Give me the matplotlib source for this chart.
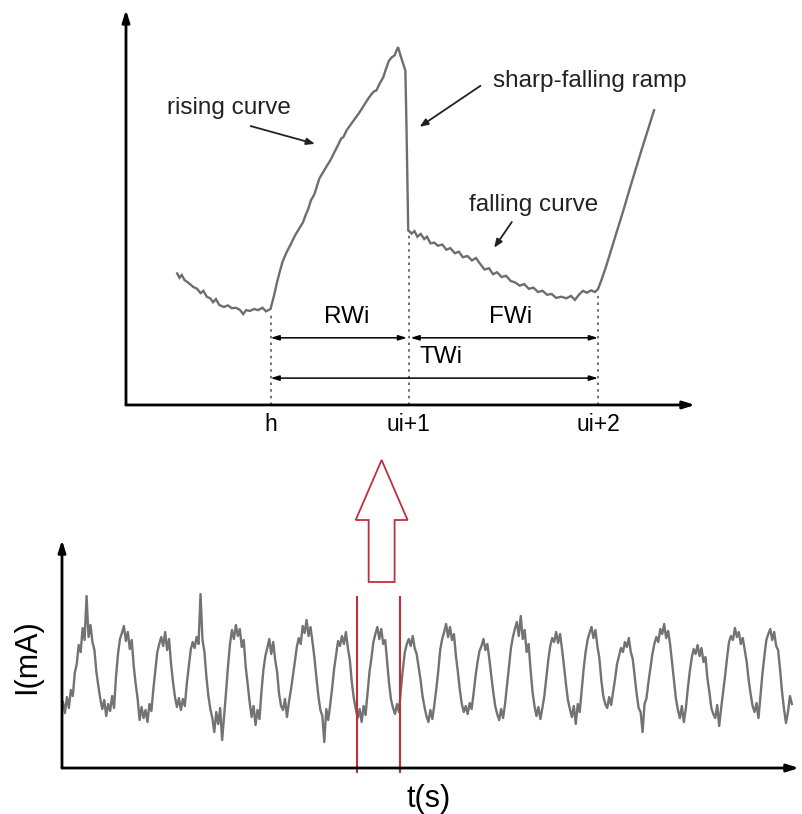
import numpy as np
import matplotlib
matplotlib.use("Agg")
import matplotlib.pyplot as plt
from matplotlib.patches import Polygon

plt.rcParams['font.family'] = ['Liberation Sans', 'DejaVu Sans']

# ---- top panel: one current cycle (arbitrary units 0..100)
cyc_x = [9.0, 9.4, 9.8, 10.3, 11.0, 11.8, 12.5, 13.1, 13.6, 14.2, 14.8, 15.3, 15.8, 16.4,
         17.2, 17.9, 18.6, 19.3, 20.0, 20.6, 21.1, 21.8, 22.5, 23.2, 24.0, 24.6, 25.4,
         26.0, 26.5, 27.0, 27.5, 28.2, 29.0, 29.7, 30.5, 31.1, 31.6, 32.0, 32.5, 33.1,
         33.6, 34.0, 34.6, 35.2, 35.9, 36.5, 37.2, 37.8, 38.2, 38.8, 39.6, 40.3, 41.0,
         41.8, 42.5, 43.1, 43.6, 44.0, 44.6, 45.2, 45.7, 46.2, 46.7, 47.2, 47.8, 48.3,
         48.8, 49.1, 49.3, 49.6,
         50.2, 50.7, 51.2, 51.8, 52.4, 52.9, 53.5, 54.2, 54.8, 55.6, 56.3, 57.0, 57.8,
         58.5, 59.2, 60.0, 60.8, 61.5, 62.2, 63.0, 63.8, 64.5, 65.2, 66.0, 66.8, 67.6,
         68.4, 69.2, 70.0, 70.8, 71.6, 72.4, 73.2, 74.0, 74.8, 75.6, 76.5, 77.4, 78.2,
         78.9, 79.6, 80.3, 81.0, 81.7, 82.4, 82.95,
         83.6, 84.4, 85.3, 86.3, 87.4, 88.5, 89.6, 90.7, 91.8, 92.8]
cyc_y = [33.3, 32.2, 32.9, 31.6, 30.9, 29.9, 29.4, 28.3, 28.9, 27.4, 27.0, 26.0, 26.8, 25.3,
         24.8, 25.2, 24.5, 24.6, 24.1, 23.0, 24.0, 23.8, 24.3, 24.0, 24.6, 23.7, 24.3,
         27.6, 30.8, 33.6, 36.2, 38.6, 40.8, 42.9, 44.8, 46.2, 48.2, 49.5, 51.8, 53.3,
         55.6, 57.4, 58.8, 60.3, 61.9, 63.6, 65.6, 67.4, 67.8, 69.6, 71.2, 72.6, 74.0,
         75.8, 77.4, 78.6, 79.4, 79.6, 81.4, 82.9, 85.1, 87.1, 88.0, 88.5, 90.6, 88.2,
         86.0, 84.6, 70.0, 44.2,
         43.4, 44.0, 42.6, 43.3, 42.0, 42.6, 40.9, 41.1, 40.3, 40.6, 39.3, 39.7, 38.4,
         38.8, 37.4, 37.7, 36.6, 37.2, 35.8, 34.3, 34.6, 33.1, 33.6, 32.4, 32.7, 31.4,
         31.0, 30.2, 30.6, 29.4, 29.7, 28.6, 28.9, 27.9, 28.1, 27.1, 27.4, 27.0, 27.6,
         26.6, 27.9, 28.9, 28.4, 29.0, 28.6, 29.3,
         31.8, 35.2, 39.4, 44.1, 49.2, 54.6, 59.8, 65.0, 70.0, 74.6]

event_x = [25.4, 49.7, 82.95]
event_labels = ['h', 'ui+1', 'ui+2']

# ---- bottom panel: measured current trace (mA), one sample every ~2 time units
trace_ma = [
    6.6, 5.5, 7.1, 6.0, 7.8, 7.2, 9.5, 10.4, 12.3, 11.6,
    14.0, 12.8, 17.2, 13.1, 14.3, 12.6, 11.8, 9.6, 8.2, 6.9,
    5.9, 6.8, 5.2, 6.4, 5.7, 7.2, 6.0, 9.2, 11.4, 12.9,
    13.5, 14.2, 12.7, 13.6, 11.9, 12.8, 10.2, 8.4, 6.9,
    4.8, 6.1, 5.0, 5.8, 4.6, 6.4, 5.7, 7.9, 9.8, 11.6, 12.4,
    13.1, 12.2, 13.6, 11.8, 12.9, 10.4, 8.6, 7.1,
    6.1, 7.0, 5.8, 6.9, 6.2, 8.4, 10.1, 11.8, 12.6,
    12.0, 13.1, 12.4, 17.4, 12.8, 11.6, 9.1, 7.2, 5.9,
    5.0, 3.6, 5.6, 4.4, 6.0, 2.8, 5.2, 7.6, 10.2, 12.4,
    13.8, 12.9, 14.3, 13.2, 13.9, 12.1, 12.8, 10.1, 8.4, 6.6,
    5.1, 6.2, 4.3, 5.8, 4.9, 7.6, 9.8, 11.2, 12.0,
    12.9, 11.4, 12.6, 10.8, 9.6, 7.4, 6.2,
    5.8, 6.9, 5.1, 6.6, 7.8, 9.2, 10.6, 12.1, 13.0, 12.4, 14.2,
    13.5, 14.8, 13.2, 14.1, 12.6, 11.0, 9.0, 7.2, 5.8,
    5.2, 2.6, 5.9, 4.8, 6.3, 8.0, 9.9, 11.3, 12.7, 12.2,
    13.2, 12.4, 13.6, 12.0, 10.8, 8.6, 7.0, 5.9,
    5.0, 5.9, 4.6, 6.2, 5.3, 7.4, 9.6, 11.0, 12.6, 13.4,
    14.1, 12.9, 13.9, 12.4, 12.8, 10.6, 8.4, 6.8, 6.0,
    5.4, 6.4, 5.6, 7.9, 9.9, 11.6, 12.4,
    12.9, 12.2, 13.2, 12.0, 11.4, 10.1, 8.8, 7.2, 6.1, 5.2,
    4.6, 5.8, 4.9, 6.3, 7.9, 9.7, 11.8, 12.9, 13.6,
    14.4, 13.1, 14.1, 12.8, 13.4, 11.2, 9.6, 7.8, 6.4, 5.6,
    6.2, 5.4, 6.5, 5.9, 7.5, 9.2, 10.6, 11.7, 12.2,
    12.9, 11.8, 12.4, 10.9, 9.2, 7.6, 6.2, 5.4,
    4.8, 5.9, 5.0, 6.4, 8.3, 10.3, 12.0, 13.1, 13.9,
    14.6, 13.2, 15.2, 12.9, 13.8, 11.6, 12.4, 9.8, 7.6, 6.2,
    5.2, 6.1, 4.9, 6.0, 7.2, 9.0, 10.8, 12.2, 13.0, 12.6,
    13.6, 12.5, 13.4, 11.9, 10.2, 8.4, 6.8, 5.9,
    5.1, 6.2, 4.4, 6.4, 5.6, 7.8, 9.9, 11.6, 12.8, 13.5,
    14.1, 13.0, 13.8, 12.2, 11.0, 8.8, 7.2, 6.4,
    6.0, 7.1, 6.3, 7.6, 8.9, 10.4, 11.2, 12.0, 11.6, 12.6,
    12.1, 13.0, 11.6, 10.9, 9.1, 7.4, 6.0,
    5.6, 3.6, 6.4, 7.0, 8.6, 10.0, 11.4, 12.4, 13.1, 12.6, 13.9,
    13.4, 14.4, 13.0, 13.7, 12.4, 10.6, 8.7, 6.9, 5.8,
    5.0, 6.2, 4.6, 5.9, 7.9, 9.6, 11.0, 11.9, 11.4,
    12.3, 11.2, 12.0, 10.6, 11.1, 9.0, 7.6, 6.0, 5.4,
    5.0, 6.3, 4.2, 6.0, 7.6, 9.2, 11.0, 12.6, 13.2, 12.8,
    14.0, 13.1, 13.6, 12.4, 13.0, 11.8, 10.6, 8.8, 7.4, 6.2,
    5.6, 6.5, 5.0, 7.2, 9.4, 11.2, 12.8, 13.4,
    13.9, 12.8, 13.6, 12.2, 11.8, 9.8, 7.6, 5.9, 4.5,
    5.6, 7.2, 6.4,
]
dt = 1.97
window = [296, 339]   # selected cycle shown enlarged above

fig = plt.figure(figsize=(8.02, 8.14), dpi=100)

# ================= top panel
ax = fig.add_axes([0.1571, 0.5025, 0.7095, 0.4853])
ax.set_xlim(0, 100)
ax.set_ylim(0, 100)
ax.axis('off')

ax.plot(cyc_x, cyc_y, color='#6e6e6e', lw=1.7, solid_joinstyle='miter')

axis_kw = dict(arrowstyle='-|>,head_length=0.7,head_width=0.22', lw=2, color='black',
               shrinkA=0, shrinkB=0)
ax.annotate('', xy=(100, 0), xytext=(0, 0), arrowprops=axis_kw, annotation_clip=False)
ax.annotate('', xy=(0, 100), xytext=(0, 0), arrowprops=axis_kw, annotation_clip=False)

fs = 17.5
for ex, lab in zip(event_x, event_labels):
    top = np.interp(ex, cyc_x, cyc_y)
    ax.plot([ex, ex], [0, top - 1], color='#555555', lw=1.2, ls=(0, (1.5, 2.5)))
    ax.text(ex, -2.0, lab, ha='center', va='top', fontsize=fs - 1, clip_on=False)

meas_kw = dict(arrowstyle='<|-|>,head_length=0.5,head_width=0.15', lw=1.1, color='black',
               shrinkA=0, shrinkB=0)
ax.annotate('', xy=(event_x[0], 17.0), xytext=(event_x[1] - 0.3, 17.0), arrowprops=meas_kw)
ax.annotate('', xy=(event_x[1] + 0.3, 17.0), xytext=(event_x[2], 17.0), arrowprops=meas_kw)
ax.annotate('', xy=(event_x[0], 6.8), xytext=(event_x[2], 6.8), arrowprops=meas_kw)
ax.text(38.7, 19.6, 'RWi', ha='center', va='bottom', fontsize=fs)
ax.text(67.5, 19.6, 'FWi', ha='center', va='bottom', fontsize=fs)
ax.text(55.4, 9.4, 'TWi', ha='center', va='bottom', fontsize=fs)

note_kw = dict(arrowstyle='-|>,head_length=0.5,head_width=0.2', lw=1.3, color='#222222',
               shrinkA=0, shrinkB=0)
ax.text(18.1, 75.2, 'rising curve', ha='center', va='center', fontsize=fs, color='#222222')
ax.annotate('', xy=(33.2, 66.1), xytext=(21.9, 70.6), arrowprops=note_kw)
ax.text(81.5, 82.0, 'sharp-falling ramp', ha='center', va='center', fontsize=fs,
        color='#222222')
ax.annotate('', xy=(51.6, 70.4), xytext=(62.3, 80.8), arrowprops=note_kw)
ax.text(71.7, 50.6, 'falling curve', ha='center', va='center', fontsize=fs, color='#222222')
ax.annotate('', xy=(64.7, 39.8), xytext=(67.8, 46.3), arrowprops=note_kw)

# ================= bottom panel
bx = fig.add_axes([0.0773, 0.0565, 0.9202, 0.2801])
bx.set_xlim(0, 740)
bx.set_ylim(0, 22.8)
bx.axis('off')

t = 1 + np.arange(len(trace_ma)) * dt
bx.plot(t, trace_ma, color='#737373', lw=1.7)

bx.annotate('', xy=(739, 0), xytext=(0, 0), arrowprops=axis_kw, annotation_clip=False)
bx.annotate('', xy=(0, 22.8), xytext=(0, 0), arrowprops=axis_kw, annotation_clip=False)

red = '#c0303c'
for w in window:
    bx.plot([w, w], [-0.4, 17.1], color=red, lw=1.5, clip_on=False)

mid = (window[0] + window[1]) / 2 + 3
shaft, head = 13, 26
arrow_pts = [(mid - shaft, 18.6), (mid + shaft, 18.6), (mid + shaft, 24.8),
             (mid + head, 24.8), (mid, 30.8), (mid - head, 24.8), (mid - shaft, 24.8)]
bx.add_patch(Polygon(arrow_pts, closed=True, fill=False, edgecolor=red, lw=1.3,
                     clip_on=False))

bx.text(368, -1.6, 't(s)', ha='center', va='top', fontsize=22)
fig.text(27 / 802, 1 - 657 / 814, 'I(mA)', rotation=90, ha='center', va='center',
         fontsize=22)

fig.savefig('out.png', dpi=100)
